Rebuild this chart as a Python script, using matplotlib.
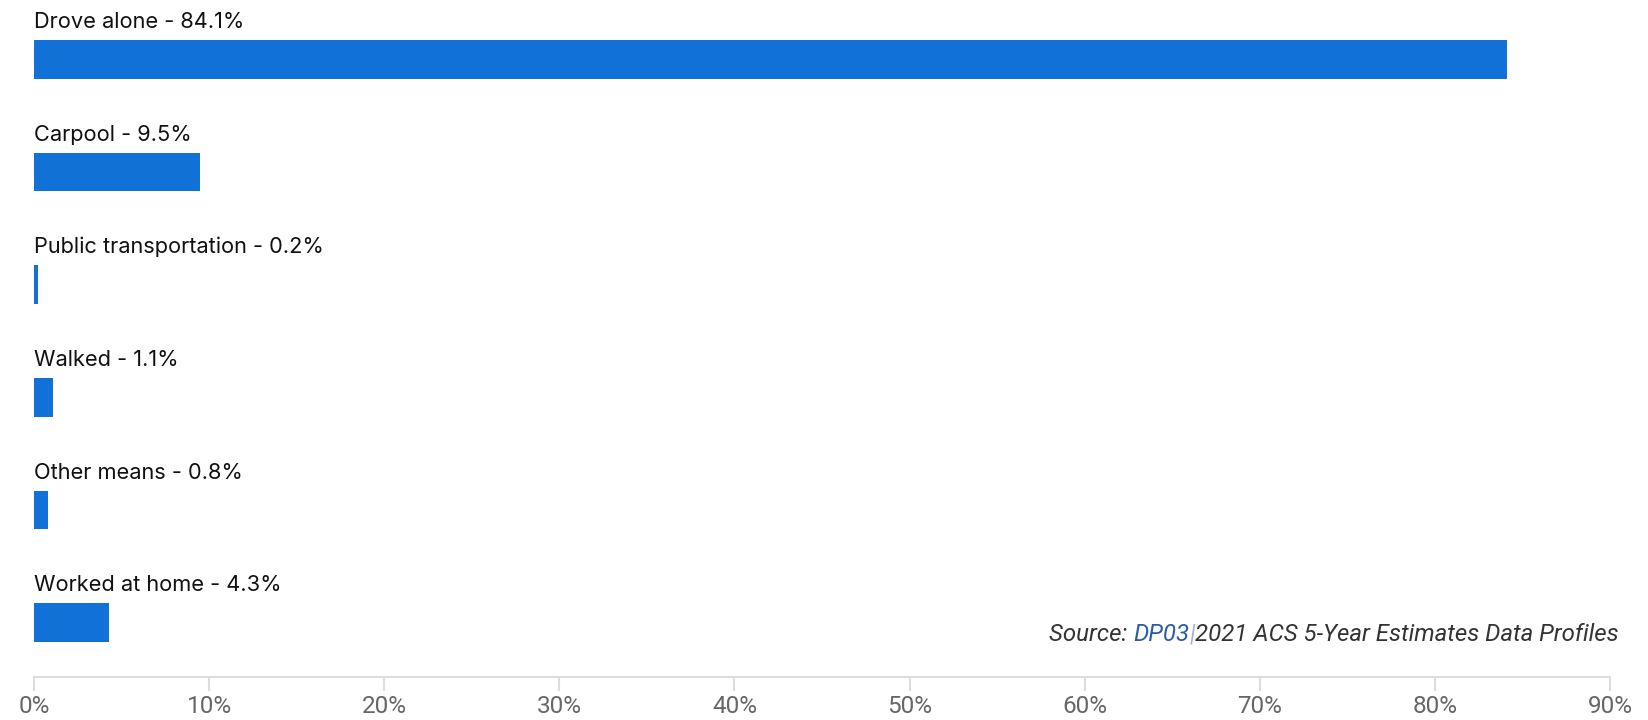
import matplotlib
matplotlib.use('Agg')
import matplotlib.pyplot as plt
from matplotlib.ticker import FuncFormatter

categories = ['Drove alone', 'Carpool', 'Public transportation', 'Walked',
              'Other means', 'Worked at home']
shares = [84.1, 9.5, 0.2, 1.1, 0.8, 4.3]
xticks = [0, 10, 20, 30, 40, 50, 60, 70, 80, 90]

BAR_COLOR = '#1271d6'
W, H = 1648, 720

fig = plt.figure(figsize=(W / 100, H / 100), dpi=100)
ax = fig.add_axes([34 / W, 43 / H, (1610 - 34) / W, 677 / H])

ypos = list(range(len(categories)))
ax.barh(ypos, shares, height=0.345, color=BAR_COLOR)
ax.set_ylim(len(categories) - 1 + 0.482, -0.527)
ax.set_xlim(0, 90)

# category labels sit above each bar
for y, cat, v in zip(ypos, categories, shares):
    ax.text(0, y - 0.279, f'{cat} - {v}%', ha='left', va='baseline',
            fontsize=15.7, family='Inter', color='#111111')

ax.set_xticks(xticks)
ax.xaxis.set_major_formatter(FuncFormatter(lambda v, p: f'{v:.0f}%'))
ax.set_yticks([])
for s in ['top', 'right', 'left']:
    ax.spines[s].set_visible(False)
ax.spines['bottom'].set_color('#dddddd')
ax.spines['bottom'].set_linewidth(1.5)
ax.tick_params(axis='x', length=10, width=1.5, color='#dddddd',
               labelcolor='#666666', labelsize=17.5, pad=3)
for lab in ax.get_xticklabels():
    lab.set_family('Roboto')

# source note, built right to left
fig.canvas.draw()
r = fig.canvas.get_renderer()
inv = fig.transFigure.inverted()
x_right = 1619 / W
y_base = 1 - 641 / H
parts = [('2021 ACS 5-Year Estimates Data Profiles', '#333333'),
         ('|', '#9fb4cc'), ('DP03', '#2a5ca8'), ('Source: ', '#333333')]
for txt, col in parts:
    t = fig.text(x_right, y_base, txt, ha='right', va='baseline',
                 fontsize=17.3, family='Roboto', style='italic', color=col)
    bb = t.get_window_extent(r)
    x_right = inv.transform((bb.x0, 0))[0]

fig.savefig('out.png', dpi=100)
